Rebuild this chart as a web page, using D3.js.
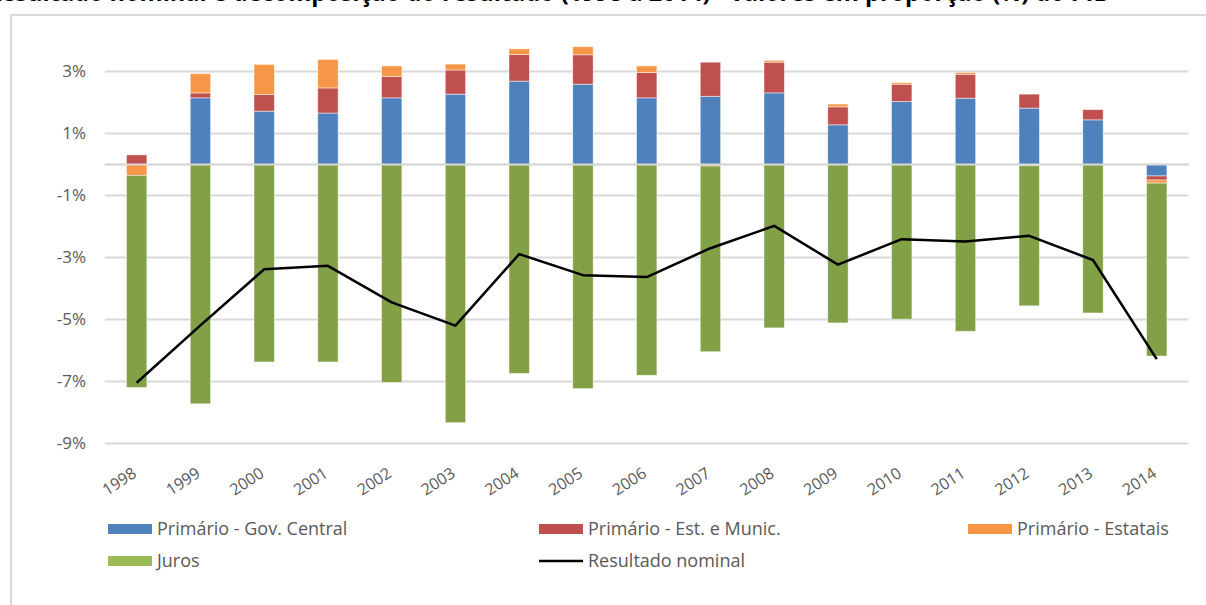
<!DOCTYPE html>
<html>

<head>
    <meta charset='utf-8'>
</head>
<style>
    body {
        margin: 0;
        background: #fff;
    }
    * {
        font-family: 'Open Sans', sans-serif;
    }
</style>

<body>
    <svg width="1206" height="605"></svg>
    <script src="https://d3js.org/d3.v7.min.js"></script>
    <script>
        // values, % do PIB
        var years = ['1998', '1999', '2000', '2001', '2002', '2003', '2004', '2005', '2006',
            '2007', '2008', '2009', '2010', '2011', '2012', '2013', '2014'];
        var govCentral = [0, 2.15, 1.72, 1.66, 2.15, 2.27, 2.69, 2.59, 2.15, 2.20, 2.31, 1.28, 2.03, 2.14, 1.82, 1.44, -0.37];
        var estMunic = [0.31, 0.16, 0.54, 0.81, 0.69, 0.78, 0.86, 0.95, 0.82, 1.10, 0.99, 0.58, 0.56, 0.77, 0.45, 0.33, -0.13];
        var estatais = [-0.35, 0.62, 0.97, 0.92, 0.34, 0.19, 0.18, 0.26, 0.21, -0.05, 0.06, 0.09, 0.05, 0.06, -0.04, 0, -0.10];
        var juros = [-6.84, -7.72, -6.37, -6.37, -7.03, -8.33, -6.74, -7.23, -6.80, -5.99, -5.27, -5.11, -4.99, -5.38, -4.52, -4.79, -5.58];
        var nominal = [-7.04, -5.19, -3.38, -3.27, -4.45, -5.20, -2.89, -3.57, -3.63, -2.70, -1.98, -3.23, -2.41, -2.48, -2.30, -3.08, -6.28];
        var yTicks = [3, 1, -1, -3, -5, -7, -9];

        var seriesNames = ['Primário - Gov. Central', 'Primário - Est. e Munic.', 'Primário - Estatais', 'Juros'];
        var barColors = ['#4f81bd', '#c0504d', '#f79646', '#82a046'];
        var legendColors = ['#4f81bd', '#c0504d', '#f79646', '#9bbb59'];

        var rows = years.map(function(y, i) {
            return { year: y, k0: govCentral[i], k1: estMunic[i], k2: estatais[i], k3: juros[i] };
        });

        var svg = d3.select('svg');

        // title, mostly cut off at the top of the picture
        svg.append('text')
            .attr('x', -14)
            .attr('y', 0.5)
            .attr('font-size', 23.5)
            .attr('font-weight', 'bold')
            .attr('fill', '#000')
            .text('Resultado nominal e decomposição do resultado (1998 a 2014) - valores em proporção (%) do PIB');

        // chart frame
        svg.append('rect')
            .attr('x', 11)
            .attr('y', 15)
            .attr('width', 1300)
            .attr('height', 700)
            .attr('fill', 'none')
            .attr('stroke', '#d9d9d9')
            .attr('stroke-width', 2);

        var x = d3.scaleBand()
            .domain(years)
            .range([104.8, 1188.6])
            .paddingInner(0.68)
            .paddingOuter(0.34);

        var y = d3.scaleLinear()
            .domain([-9, 3])
            .range([443.5, 71.5]);

        // gridlines
        var grid = svg.append('g');
        grid.selectAll('line')
            .data(yTicks.concat([0]))
            .enter().append('line')
            .attr('x1', 104.8)
            .attr('x2', 1188.6)
            .attr('y1', function(d) { return y(d); })
            .attr('y2', function(d) { return y(d); })
            .attr('stroke', '#d9d9d9')
            .attr('stroke-width', 2);

        // y labels
        var yAxis = svg.append('g')
            .attr('transform', 'translate(96,0)')
            .call(d3.axisLeft(y).tickValues(yTicks).tickSize(0).tickPadding(10)
                .tickFormat(function(d) { return d + '%'; }));
        yAxis.select('.domain').remove();
        yAxis.selectAll('text')
            .attr('font-size', 17)
            .attr('fill', '#595959')
            .style('font-family', "'Open Sans', sans-serif");

        // stacked bars
        var stack = d3.stack()
            .keys(['k0', 'k1', 'k2', 'k3'])
            .offset(d3.stackOffsetDiverging);
        var layers = stack(rows);

        svg.append('g')
            .selectAll('g')
            .data(layers)
            .enter().append('g')
            .attr('fill', function(d, i) { return barColors[i]; })
            .selectAll('rect')
            .data(function(d) { return d; })
            .enter().append('rect')
            .attr('x', function(d) { return x(d.data.year); })
            .attr('width', x.bandwidth())
            .attr('y', function(d) { return y(Math.max(d[0], d[1])); })
            .attr('height', function(d) { return Math.abs(y(d[0]) - y(d[1])); })
            .attr('stroke', '#fff')
            .attr('stroke-opacity', 0.6)
            .attr('stroke-width', 0.8);

        // zero line shows through between the stacks
        svg.append('line')
            .attr('x1', 104.8)
            .attr('x2', 1188.6)
            .attr('y1', y(0))
            .attr('y2', y(0))
            .attr('stroke', '#d9d9d9')
            .attr('stroke-width', 2);

        // resultado nominal
        var line = d3.line()
            .x(function(d, i) { return x(years[i]) + x.bandwidth() / 2; })
            .y(function(d) { return y(d); });
        svg.append('path')
            .datum(nominal)
            .attr('d', line)
            .attr('fill', 'none')
            .attr('stroke', '#000')
            .attr('stroke-width', 2.5)
            .attr('stroke-linejoin', 'round');

        // x labels, rotated
        svg.append('g')
            .selectAll('text')
            .data(years)
            .enter().append('text')
            .attr('transform', function(d) {
                return 'translate(' + (x(d) + x.bandwidth() / 2 + 1) + ',476) rotate(-33)';
            })
            .attr('text-anchor', 'end')
            .attr('font-size', 16)
            .attr('fill', '#595959')
            .text(function(d) { return d; });

        // legend
        var legendItems = [
            { name: seriesNames[0], color: legendColors[0], x: 108, y: 529, type: 'bar' },
            { name: seriesNames[1], color: legendColors[1], x: 539, y: 529, type: 'bar' },
            { name: seriesNames[2], color: legendColors[2], x: 968, y: 529, type: 'bar' },
            { name: seriesNames[3], color: legendColors[3], x: 108, y: 561, type: 'bar' },
            { name: 'Resultado nominal', color: '#000', x: 539, y: 561, type: 'line' }
        ];
        var legend = svg.append('g')
            .selectAll('g')
            .data(legendItems)
            .enter().append('g')
            .attr('transform', function(d) { return 'translate(' + d.x + ',' + d.y + ')'; });
        legend.filter(function(d) { return d.type == 'bar'; })
            .append('rect')
            .attr('x', 0)
            .attr('y', -5)
            .attr('width', 44)
            .attr('height', 10)
            .attr('fill', function(d) { return d.color; });
        legend.filter(function(d) { return d.type == 'line'; })
            .append('line')
            .attr('x1', 0)
            .attr('x2', 44)
            .attr('stroke', '#000')
            .attr('stroke-width', 2.5);
        legend.append('text')
            .attr('x', 49)
            .attr('dy', '0.36em')
            .attr('font-size', 18)
            .attr('fill', '#595959')
            .text(function(d) { return d.name; });
    </script>
</body>

</html>
